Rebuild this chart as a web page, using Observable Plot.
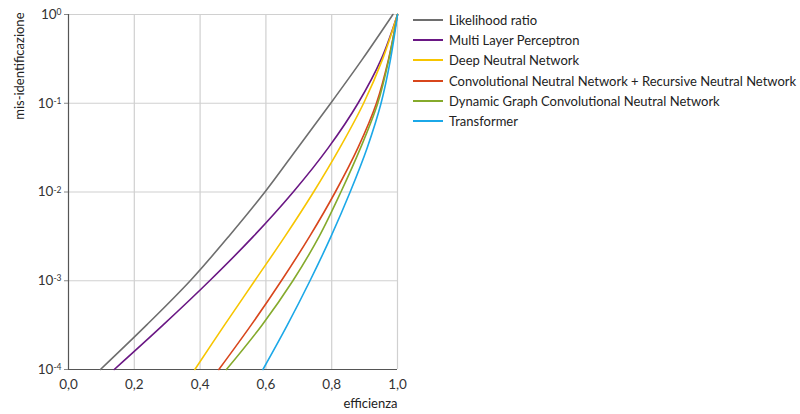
<!DOCTYPE html>
<html>
<head>
<meta charset="utf-8">
<script src="https://cdn.jsdelivr.net/npm/d3@7"></script>
<script src="https://cdn.jsdelivr.net/npm/@observablehq/plot@0.6"></script>
<style>
  body { margin: 0; background: #fff; font-family: Lato, "Open Sans", sans-serif; }
  #wrap { position: relative; width: 800px; height: 414px; }
  #legend { position: absolute; left: 413px; top: 10px; font-size: 13px; color: #222; }
  .item { height: 20.2px; display: flex; align-items: center; white-space: nowrap; }
  .item svg { margin-right: 6px; }
</style>
</head>
<body>
<div id="wrap"><div id="legend"></div></div>
<script>
// mis-identification levels (y) common to every curve
const misid = [0.0001, 0.000316, 0.001, 0.00316, 0.01, 0.0316, 0.1, 0.316, 1];
// efficiency (x) of each curve at those levels
const likelihoodRatio = [0.097, 0.237, 0.370, 0.487, 0.597, 0.697, 0.797, 0.894, 0.986];
const multiLayerPerceptron = [0.139, 0.287, 0.429, 0.562, 0.683, 0.790, 0.880, 0.951, 1.0];
const deepNeutralNetwork = [0.384, 0.474, 0.566, 0.658, 0.745, 0.825, 0.897, 0.955, 1.0];
const convRecursive = [0.457, 0.555, 0.647, 0.733, 0.811, 0.880, 0.936, 0.973, 1.0];
const dynamicGraph = [0.480, 0.588, 0.682, 0.762, 0.828, 0.888, 0.940, 0.974, 1.0];
const transformer = [0.591, 0.665, 0.734, 0.798, 0.856, 0.908, 0.950, 0.979, 1.0];

const seriesNames = [
  "Likelihood ratio",
  "Multi Layer Perceptron",
  "Deep Neutral Network",
  "Convolutional Neutral Network + Recursive Neutral Network",
  "Dynamic Graph Convolutional Neutral Network",
  "Transformer"
];
const seriesValues = [likelihoodRatio, multiLayerPerceptron, deepNeutralNetwork, convRecursive, dynamicGraph, transformer];
const seriesColors = ["#6e6e6e", "#6a1784", "#f7c500", "#d8461c", "#85aa2c", "#1ba8e8"];

const xTicks = [0, 0.2, 0.4, 0.6, 0.8, 1.0];
const yTicks = [1, 0.1, 0.01, 0.001, 0.0001];
const yExponents = ["0", "-1", "-2", "-3", "-4"];

const rows = seriesNames.flatMap((name, i) =>
  seriesValues[i].map((x, j) => ({series: name, eff: x, mis: misid[j]})));

const chart = Plot.plot({
  width: 800,
  height: 414,
  marginLeft: 68,
  marginRight: 403,
  marginTop: 14,
  marginBottom: 45,
  style: {fontFamily: "Lato, 'Open Sans', sans-serif", fontSize: "13px", color: "#333", background: "#fff"},
  x: {domain: [0, 1]},
  y: {type: "log", domain: [0.0001, 1]},
  color: {domain: seriesNames, range: seriesColors},
  marks: [
    Plot.gridX(xTicks.slice(1), {stroke: "#d0d0d0", strokeOpacity: 1, strokeWidth: 1.2}),
    Plot.gridY(yTicks.slice(0, 4), {stroke: "#d0d0d0", strokeOpacity: 1, strokeWidth: 1.2}),
    Plot.axisX(xTicks, {tickSize: 0, tickPadding: 10, label: null, fontSize: 13.5,
      tickFormat: d => d.toFixed(1).replace(".", ",")}),
    Plot.axisY(yTicks, {tickSize: 4, tickPadding: 3, label: null, fontSize: 13.5, stroke: "#888",
      tickFormat: d => yExponents[yTicks.indexOf(d)]}),
    Plot.ruleX([0], {stroke: "#555", strokeWidth: 1.2}),
    Plot.ruleY([0.0001], {stroke: "#555", strokeWidth: 1.2}),
    Plot.line(rows, {x: "eff", y: "mis", z: "series", stroke: "series", strokeWidth: 1.6, curve: "catmull-rom"}),
    Plot.text(["mis-identificazione"], {frameAnchor: "top-left", text: d => d, rotate: -90,
      textAnchor: "end", dx: -54, dy: -2, fontSize: 13, fill: "#222"}),
    Plot.text(["efficienza"], {frameAnchor: "bottom-right", text: d => d,
      textAnchor: "end", dy: 38, fontSize: 13, fill: "#222"})
  ]
});

// superscript exponents on the log axis labels
d3.select(chart).selectAll('g[aria-label="y-axis tick label"] text').each(function() {
  const exp = this.textContent;
  const t = d3.select(this);
  t.text("10");
  t.append("tspan").attr("dy", "-0.45em").attr("font-size", "8.5px").text(exp);
});

document.getElementById("wrap").prepend(chart);

const legend = d3.select("#legend");
seriesNames.forEach((name, i) => {
  const item = legend.append("div").attr("class", "item");
  const s = item.append("svg").attr("width", 30).attr("height", 4);
  s.append("line").attr("x1", 0).attr("x2", 30).attr("y1", 2).attr("y2", 2)
    .attr("stroke", seriesColors[i]).attr("stroke-width", 2);
  item.append("span").text(name);
});
</script>
</body>
</html>
